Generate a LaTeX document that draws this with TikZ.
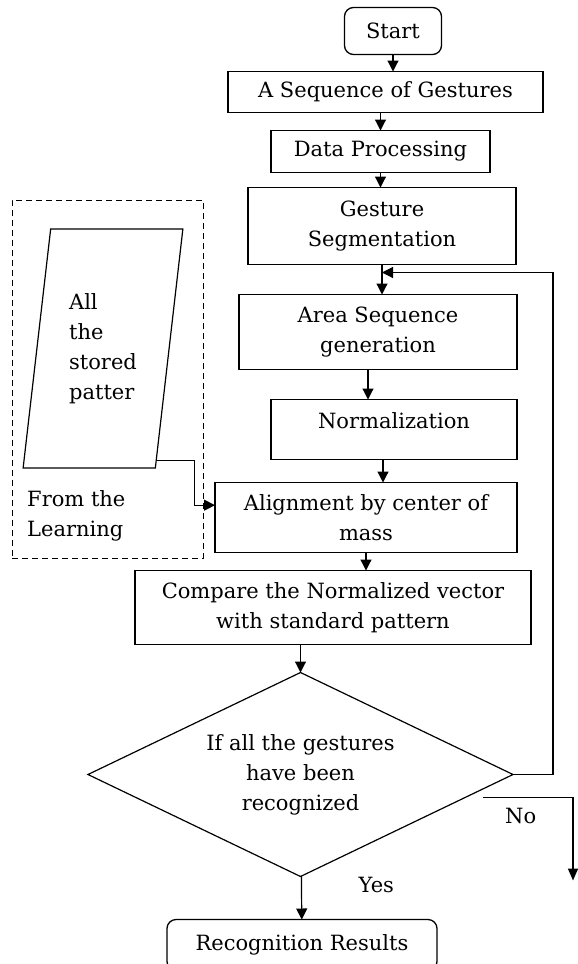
\documentclass[tikz,border=0pt]{standalone}
\usepackage{fontspec}
\setmainfont{DejaVu Serif}
\usetikzlibrary{positioning,shapes.geometric,arrows.meta,calc}
\tikzset{
  stepbox/.style={draw,line width=1.3pt,align=center,inner sep=2pt,outer sep=0pt},
  endbox/.style={stepbox,rounded corners=9pt},
  decision/.style={draw,diamond,aspect=2.08,line width=1.2pt,align=center,inner sep=0pt,outer sep=0pt,minimum width=425pt,minimum height=204pt},
  datain/.style={draw,trapezium,trapezium left angle=80.5,trapezium right angle=99.5,trapezium stretches=true,line width=1.2pt,minimum width=160pt,minimum height=239pt,align=left},
  panel/.style={draw,dash pattern=on 6pt off 4pt,line width=1pt,minimum width=191pt,minimum height=358pt},
  lbl/.style={inner sep=0pt},
  myarrow/.style={-{Triangle[length=11pt,width=11pt]},line width=1.2pt},
}

\begin{document}
\begin{tikzpicture}[x=1pt,y=-1pt,font=\fontsize{21}{30}\selectfont]
  \useasboundingbox (0,0) rectangle (578,964);
  % main column
  \node[endbox,minimum width=97pt,minimum height=47pt] (start) at (393,31) {Start};
  \node[stepbox,minimum width=315pt,minimum height=41pt,below=17pt of start,xshift=-7.5pt] (seq) {A Sequence of Gestures};
  \node[stepbox,minimum width=219pt,minimum height=42pt,below=18pt of seq,xshift=-5pt] (proc) {Data Processing};
  \node[stepbox,minimum width=268pt,minimum height=77pt,below=15pt of proc,xshift=1.5pt] (seg) {Gesture\\Segmentation};
  \node[stepbox,minimum width=278pt,minimum height=75pt,below=30pt of seg,xshift=-4pt] (area) {Area Sequence\\generation};
  \node[stepbox,minimum width=246pt,minimum height=60pt,text depth=18pt,below=30pt of area,xshift=16pt] (norm) {Normalization};
  \node[stepbox,minimum width=302pt,minimum height=70pt,below=23pt of norm,xshift=-28pt] (align) {Alignment by center of\\mass};
  \node[stepbox,minimum width=396pt,minimum height=74pt,below=18pt of align,xshift=-33pt] (comp) {Compare the Normalized vector\\with standard pattern};
  \node[decision,below=28pt of comp,xshift=-32.5pt] (dec) {If all the gestures\\have been\\recognized};
  \node[endbox,minimum width=270pt,minimum height=51pt,below=43pt of dec,xshift=1.5pt] (res) {Recognition Results};

  % stored patterns on the left
  \node[panel] (panel) at (107.5,379) {};
  \node[datain] (store) at (103,348.5) {All\\the\\stored\\patter};
  \node[lbl,align=left,anchor=west] (learn) at (27,516) {From the\\Learning};

  \draw[myarrow] (start) -- (start |- seq.north);
  \draw[myarrow] (proc |- seq.south) -- (proc);
  \draw[myarrow] (proc) -- (proc |- seg.north);
  \draw[myarrow] (seg) -- (seg |- area.north);
  \draw[myarrow] ([xshift=-10pt]area.south) -- ([xshift=-10pt]area.south |- norm.north);
  \draw[myarrow] ([xshift=-11pt]norm.south) -- ([xshift=-11pt]norm.south |- align.north);
  \draw[myarrow] (align) -- (align |- comp.north);
  \draw[myarrow] (dec |- comp.south) -- (dec);
  \draw[myarrow] (dec) -- (res);
  \node[lbl,below right=0pt and 58pt of dec.south] (yes) {Yes};

  % loop back while gestures remain
  \coordinate (loop) at ([xshift=37pt,yshift=-8pt]seg.south east);
  \draw[myarrow] (dec.east) -| (loop) -- (seg |- loop);

  % the No branch
  \coordinate (nostart) at ([xshift=-30pt,yshift=-23pt]dec.east);
  \coordinate (noturn) at ([xshift=90pt]nostart);
  \coordinate (noend) at ([yshift=-83pt]noturn);
  \draw[-{Triangle[length=12pt,width=10pt]},line width=1.6pt] (nostart) -- (noturn) -- (noend);
  \node[lbl,below right=10pt and 22pt of nostart] (no) {No};

  % feed from the stored patterns
  \coordinate (tap) at ($(store.bottom right corner)!0.035!(store.top right corner)$);
  \coordinate (turn) at ([xshift=38pt,yshift=-45pt]tap);
  \draw[myarrow] (tap) -| (turn) -- (turn -| align.west);
\end{tikzpicture}
\end{document}
